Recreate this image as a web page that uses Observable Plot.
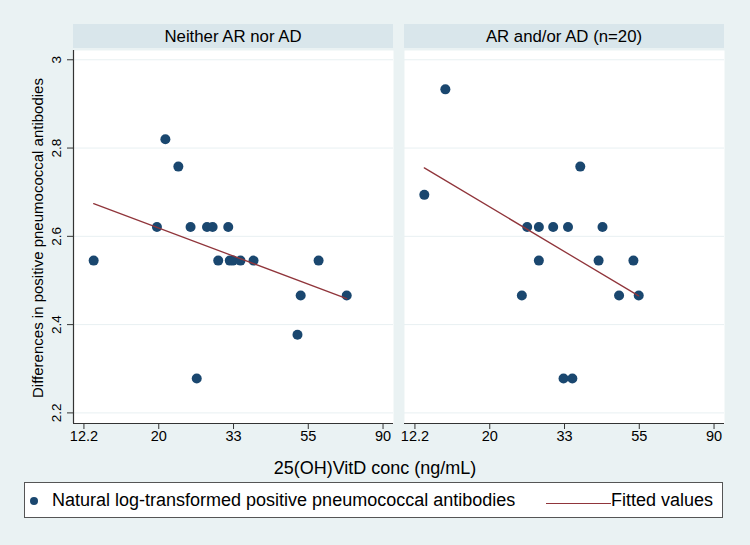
<!DOCTYPE html>
<html>
<head>
<meta charset="utf-8">
<script src="https://cdn.jsdelivr.net/npm/d3@7"></script>
<script src="https://cdn.jsdelivr.net/npm/@observablehq/plot@0.6"></script>
<style>
  html, body { margin: 0; padding: 0; }
  body { width: 750px; height: 545px; background: #eaf2f3; font-family: "Liberation Sans", Arial, Helvetica, sans-serif; color: #000; }
  #wrap { position: relative; width: 750px; height: 545px; overflow: hidden; }
  .strip { position: absolute; top: 24px; height: 24px; background: #d9e6eb; font-size: 16.8px; line-height: 25px; text-align: center; white-space: nowrap; }
  #ylab { position: absolute; left: 37px; top: 238px; transform: translate(-50%, -50%) rotate(-90deg); white-space: nowrap; font-size: 15px; }
  #xlab { position: absolute; left: 375px; top: 468px; transform: translate(-50%, -50%); white-space: nowrap; font-size: 18px; }
  #legend { position: absolute; left: 24px; top: 482px; width: 697px; height: 34px; background: #fff; border: 1.5px solid #555; box-sizing: content-box; font-size: 18px; }
  #legend .item { position: absolute; top: 0; line-height: 35px; white-space: nowrap; }
  #legend .dot { position: absolute; width: 8px; height: 8px; border-radius: 50%; background: #1a476f; }
  #legend .ln { position: absolute; height: 1.3px; background: #90353b; }
</style>
</head>
<body>
<div id="wrap">
  <div class="strip" style="left:73px;width:320px;">Neither AR nor AD</div>
  <div class="strip" style="left:404px;width:320px;">AR and/or AD (n=20)</div>
  <div id="ylab">Differences in positive pneumococcal antibodies</div>
  <div id="xlab">25(OH)VitD conc (ng/mL)</div>
  <div id="legend">
    <div class="dot" style="left:5px;top:14px;"></div>
    <div class="item" style="left:27px;">Natural log-transformed positive pneumococcal antibodies</div>
    <div class="ln" style="left:521px;width:65px;top:20px;"></div>
    <div class="item" style="left:586px;">Fitted values</div>
  </div>
</div>
<script>
// ---- data ----
const panelTitles = ["Neither AR nor AD", "AR and/or AD (n=20)"];

// Panel 1: Neither AR nor AD
const vitD1 = [13.0, 19.85, 21.0, 22.9, 24.85, 27.74, 28.8, 31.97, 29.9, 32.3, 33.0, 34.7, 37.86, 58.5, 51.9, 70.6, 50.8, 25.9];
const ab1   = [2.545, 2.621, 2.820, 2.758, 2.621, 2.621, 2.621, 2.621, 2.545, 2.545, 2.545, 2.545, 2.545, 2.545, 2.466, 2.466, 2.377, 2.278];
const fitX1 = [13.0, 70.6];
const fitY1 = [2.674, 2.459];

// Panel 2: AR and/or AD (n=20)
const vitD2 = [12.97, 14.93, 36.8, 25.8, 27.9, 30.7, 33.9, 42.7, 27.9, 41.6, 52.5, 24.9, 47.7, 54.4, 32.9, 34.9];
const ab2   = [2.694, 2.933, 2.758, 2.621, 2.621, 2.621, 2.621, 2.621, 2.545, 2.545, 2.545, 2.466, 2.466, 2.466, 2.278, 2.278];
const fitX2 = [12.97, 54.4];
const fitY2 = [2.755, 2.465];

// axes
const xTickValues = [12.18, 20.09, 33.12, 54.60, 90.02];
const xTickLabels = ["12.2", "20", "33", "55", "90"];
const yTickValues = [2.2, 2.4, 2.6, 2.8, 3.0];
const yTickLabels = ["2.2", "2.4", "2.6", "2.8", "3"];
const xDomain = [11.36, 96.54];
const yDomain = [2.176, 3.021];

const dotColor = "#1a476f";
const lineColor = "#90353b";
const axisColor = "#333";

const nearestLabel = (vals, labels) => (d) => labels[d3.minIndex(vals, (v) => Math.abs(v - d))];

function panel(vit, ab, fx, fy, showY, width, marginLeft, marginRight) {
  const pts = vit.map((v, i) => ({x: v, y: ab[i]}));
  const fit = fx.map((v, i) => ({x: v, y: fy[i]}));
  const xt = xTickValues.map((v, i) => ({v, label: xTickLabels[i]}));
  const marks = [
    Plot.frame({fill: "white", stroke: null}),
    Plot.gridY(yTickValues, {stroke: "#e8f0f2", strokeOpacity: 1}),
    Plot.axisX(xTickValues, {tickSize: 6, stroke: axisColor, tickFormat: () => "", label: null}),
    Plot.text(xt, {x: "v", text: "label", frameAnchor: "bottom", dy: 17, fontSize: 14.5, fill: "#000"}),
    Plot.ruleY([yDomain[0]], {stroke: axisColor, strokeWidth: 1.2})
  ];
  if (showY) {
    marks.push(
      Plot.axisY(yTickValues, {tickSize: 6, tickPadding: 7, stroke: axisColor, fontSize: 13.5, tickRotate: -90,
        tickFormat: nearestLabel(yTickValues, yTickLabels), label: null}),
      Plot.ruleX([xDomain[0]], {stroke: axisColor, strokeWidth: 1.2})
    );
  } else {
    marks.push(Plot.axisY({ticks: [], label: null}));
  }
  marks.push(
    Plot.dot(pts, {x: "x", y: "y", r: 5, fill: dotColor, stroke: null}),
    Plot.line(fit, {x: "x", y: "y", stroke: lineColor, strokeWidth: 1.3})
  );
  return Plot.plot({
    width, height: 545,
    marginTop: 50, marginBottom: 122, marginLeft, marginRight,
    style: {background: "transparent", fontFamily: "Liberation Sans, Arial, Helvetica, sans-serif", fontSize: "13px", color: "#000", overflow: "visible"},
    x: {type: "log", domain: xDomain, label: null},
    y: {domain: yDomain, label: null},
    marks
  });
}

const wrap = document.getElementById("wrap");
const p1 = panel(vitD1, ab1, fitX1, fitY1, true, 397, 73, 4);
p1.style.position = "absolute"; p1.style.left = "0px"; p1.style.top = "0px";
const p2 = panel(vitD2, ab2, fitX2, fitY2, false, 353, 7, 26);
p2.style.position = "absolute"; p2.style.left = "397px"; p2.style.top = "0px";
wrap.insertBefore(p2, wrap.firstChild);
wrap.insertBefore(p1, wrap.firstChild);
</script>
</body>
</html>
